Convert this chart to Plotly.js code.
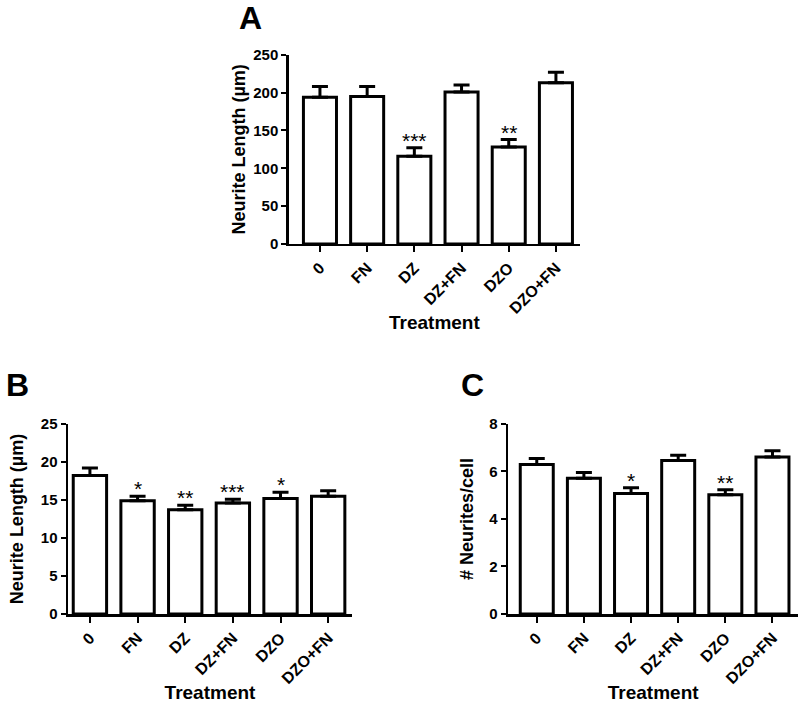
<!DOCTYPE html>
<html>
<head>
<meta charset="utf-8">
<script src="https://cdn.plot.ly/plotly-3.0.1.min.js"></script>
<style>html,body{margin:0;padding:0;background:#fff;}#chart{width:800px;height:703px;}</style>
</head>
<body>
<div id="chart"></div>
<script>
// Data
var treatments = ["0", "FN", "DZ", "DZ+FN", "DZO", "DZO+FN"];

var lengthA = [194, 195, 116, 201, 128, 213];
var lengthA_err = [14, 13, 11, 9, 10, 14];
var starsA = ["", "", "***", "", "**", ""];

var lengthB = [18.2, 14.9, 13.7, 14.6, 15.2, 15.5];
var lengthB_err = [1.0, 0.6, 0.6, 0.5, 0.8, 0.7];
var starsB = ["", "*", "**", "***", "*", ""];

var neuritesC = [6.29, 5.71, 5.07, 6.46, 5.02, 6.61];
var neuritesC_err = [0.25, 0.25, 0.24, 0.22, 0.21, 0.26];
var starsC = ["", "", "*", "", "**", ""];

var FONT = "Liberation Sans, Arial, Helvetica, sans-serif";

function barTrace(y, err, xa, ya) {
  return {
    type: "bar", x: treatments, y: y, xaxis: xa, yaxis: ya,
    width: 0.7,
    marker: {color: "#ffffff", line: {color: "#000000", width: 3}},
    error_y: {type: "data", symmetric: false, array: err,
      arrayminus: err.map(function(){return 0;}),
      color: "#000000", thickness: 3, width: 8},
    hoverinfo: "skip", showlegend: false
  };
}

var data = [
  barTrace(lengthA, lengthA_err, "x", "y"),
  barTrace(lengthB, lengthB_err, "x2", "y2"),
  barTrace(neuritesC, neuritesC_err, "x3", "y3")
];

function xAxis(domain, range, anchor, standoff) {
  return {
    domain: domain, anchor: anchor, type: "category", range: range,
    showline: true, linecolor: "#000", linewidth: 2.5,
    ticks: "outside", ticklen: 6, tickwidth: 2, tickcolor: "#000",
    tickangle: -45, showgrid: false, zeroline: false,
    tickfont: {family: FONT, size: 16, color: "#000", weight: "bold"},
    title: {text: "Treatment", font: {family: FONT, size: 19, color: "#000", weight: "bold"}, standoff: standoff}
  };
}
function yAxis(domain, range, dtick, title, anchor, standoff) {
  return {
    domain: domain, anchor: anchor, range: range, dtick: dtick,
    showline: true, linecolor: "#000", linewidth: 2.5,
    ticks: "outside", ticklen: 5, tickwidth: 2, tickcolor: "#000",
    showgrid: false, zeroline: false,
    tickfont: {family: FONT, size: 15, color: "#000", weight: "bold"},
    title: {text: title, font: {family: FONT, size: 18, color: "#000", weight: "bold"}, standoff: standoff}
  };
}

var annotations = [];
function addStars(stars, vals, errs, xref, yref) {
  for (var i = 0; i < stars.length; i++) {
    if (!stars[i]) continue;
    annotations.push({
      xref: xref, yref: yref, x: treatments[i], y: vals[i] + errs[i],
      text: stars[i], showarrow: false, yanchor: "bottom", yshift: -6,
      font: {family: FONT, size: 21, color: "#000"}
    });
  }
}
addStars(starsA, lengthA, lengthA_err, "x", "y");
addStars(starsB, lengthB, lengthB_err, "x2", "y2");
addStars(starsC, neuritesC, neuritesC_err, "x3", "y3");

var panelLabels = [["A", 0.313, 0.975], ["B", 0.022, 0.452], ["C", 0.59, 0.452]];
panelLabels.forEach(function(p) {
  annotations.push({xref: "paper", yref: "paper", x: p[1], y: p[2], text: p[0],
    showarrow: false, xanchor: "center", yanchor: "middle",
    font: {family: FONT, size: 32, color: "#000", weight: "bold"}});
});

var layout = {
  width: 800, height: 703,
  margin: {l: 0, r: 0, t: 0, b: 0},
  paper_bgcolor: "#fff", plot_bgcolor: "rgba(0,0,0,0)",
  bargap: 0.3,
  xaxis: xAxis([0.361, 0.725], [-0.66, 5.51], "y", 0),
  yaxis: yAxis([0.653, 0.922], [0, 250], 50, "Neurite Length (µm)", "x", 3),
  xaxis2: xAxis([0.085, 0.44], [-0.46, 5.5], "y2", 6),
  yaxis2: yAxis([0.1266, 0.397], [0, 25], 5, "Neurite Length (µm)", "x2", 13),
  xaxis3: xAxis([0.635, 0.998], [-0.61, 5.55], "y3", 6),
  yaxis3: yAxis([0.1266, 0.397], [0, 8], 2, "# Neurites/cell", "x3", 11),
  annotations: annotations
};

Plotly.newPlot("chart", data, layout, {staticPlot: true, displayModeBar: false});
</script>
</body>
</html>
